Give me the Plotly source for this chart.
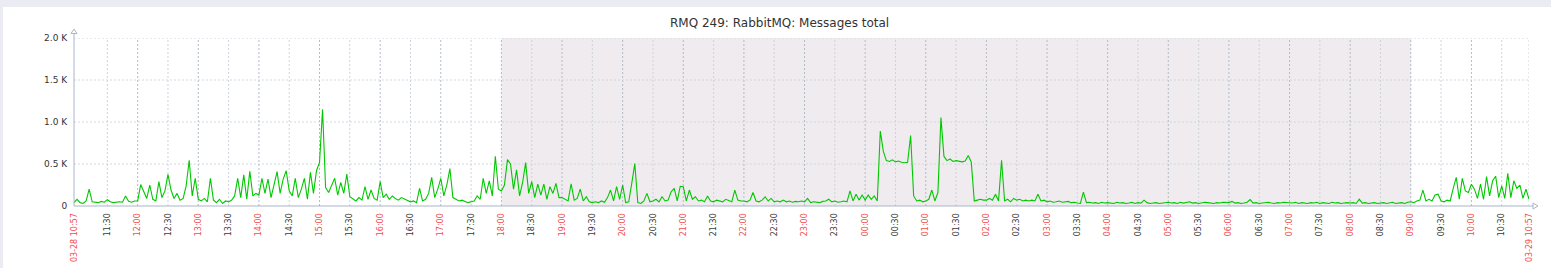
import plotly.graph_objects as go
import pandas as pd

TITLE = "RMQ 249: RabbitMQ: Messages total"
START = "2024-03-28 10:57"
END = "2024-03-29 10:57"
NIGHT_START = "2024-03-28 18:00"
NIGHT_END = "2024-03-29 09:00"
START_LABEL = "03-28 10:57"
END_LABEL = "03-29 10:57"

# values every 3 minutes, starting 10:57; each hourly list covers hh:00 .. hh:57
h10a = [40]
h11 = [80, 40, 30, 60, 200, 50, 45, 40, 55, 45, 75, 50, 40, 45, 50, 45, 120, 55, 45, 60]
h12 = [60, 255, 180, 90, 250, 80, 60, 290, 100, 180, 377, 190, 90, 150, 70, 90, 240, 544, 120, 330]
h13 = [80, 60, 90, 50, 330, 70, 40, 80, 30, 60, 50, 70, 120, 330, 100, 370, 80, 413, 120, 150]
h14 = [130, 330, 150, 320, 100, 250, 410, 150, 320, 420, 180, 120, 330, 100, 200, 330, 80, 400, 150, 420]
h15 = [520, 1150, 220, 160, 250, 330, 130, 280, 150, 380, 110, 80, 60, 100, 70, 230, 80, 190, 90, 70]
h16 = [290, 100, 140, 80, 120, 90, 70, 100, 80, 60, 50, 60, 40, 210, 60, 80, 150, 340, 100, 200]
h17 = [330, 120, 250, 445, 100, 80, 60, 70, 50, 40, 50, 60, 120, 80, 330, 150, 300, 120, 592, 200]
h18 = [180, 250, 552, 500, 200, 430, 120, 280, 516, 150, 290, 100, 260, 130, 260, 80, 230, 150, 270, 100]
h19 = [100, 80, 60, 265, 70, 90, 200, 60, 110, 50, 40, 50, 40, 60, 45, 100, 190, 60, 230, 80]
h20 = [250, 40, 50, 270, 504, 40, 30, 60, 150, 50, 60, 80, 50, 110, 60, 70, 170, 210, 60, 235]
h21 = [230, 60, 190, 80, 110, 60, 70, 50, 120, 60, 50, 70, 60, 50, 80, 60, 50, 190, 70, 60]
h22 = [60, 50, 70, 160, 60, 50, 70, 110, 60, 90, 50, 60, 50, 70, 50, 60, 45, 55, 50, 60]
h23 = [50, 90, 40, 50, 45, 40, 55, 60, 80, 50, 60, 45, 50, 60, 50, 180, 60, 140, 70, 130]
h00 = [70, 130, 80, 120, 60, 893, 650, 540, 530, 550, 525, 535, 520, 515, 520, 840, 120, 60, 70, 50]
h01 = [60, 80, 190, 60, 160, 1052, 590, 540, 560, 530, 540, 530, 525, 535, 600, 525, 60, 70, 80, 70]
h02 = [70, 90, 70, 140, 60, 545, 60, 80, 50, 90, 70, 80, 60, 70, 60, 70, 60, 140, 60, 70]
h03 = [50, 60, 45, 50, 60, 45, 50, 55, 40, 45, 35, 30, 165, 40, 45, 35, 40, 30, 45, 35]
h04 = [40, 35, 30, 45, 35, 40, 30, 35, 45, 30, 40, 35, 70, 40, 30, 35, 40, 30, 35, 40]
h05 = [45, 35, 40, 30, 45, 35, 40, 50, 35, 40, 30, 35, 45, 40, 35, 30, 40, 35, 45, 40]
h06 = [40, 55, 35, 40, 30, 35, 45, 76, 35, 40, 30, 35, 40, 45, 35, 30, 40, 35, 45, 40]
h07 = [40, 35, 45, 30, 40, 35, 30, 40, 35, 45, 30, 40, 35, 30, 45, 35, 40, 30, 35, 40]
h08 = [35, 40, 30, 80, 35, 40, 30, 35, 40, 30, 35, 40, 30, 35, 45, 30, 35, 40, 30, 45]
h09 = [50, 40, 60, 70, 190, 60, 80, 60, 130, 140, 60, 50, 70, 60, 210, 340, 80, 330, 180, 160]
h10b = [260, 200, 90, 260, 80, 350, 120, 300, 355, 100, 240, 90, 390, 100, 300, 210, 250, 90, 200, 80]

y_tickvals = [0, 500, 1000, 1500, 2000]
y_ticktext = ["0", "0.5 K", "1.0 K", "1.5 K", "2.0 K"]

values = (h10a + h11 + h12 + h13 + h14 + h15 + h16 + h17 + h18 + h19 + h20 + h21 + h22 + h23
          + h00 + h01 + h02 + h03 + h04 + h05 + h06 + h07 + h08 + h09 + h10b)
times = pd.date_range(START, periods=len(values), freq="3min")

# ---- layout geometry (pixels) ----
W, H = 1551, 268
ML, MR, MT, MB = 74, 22, 38, 62
PW = W - ML - MR
PH = H - MT - MB

def px(xp):
    return (xp - ML) / PW

def py(yp):
    return (H - MB - yp) / PH

RED = "#F24B4B"
GREY = "#3A3A3A"
AXIS = "#A8B6C8"

half_hours = pd.date_range("2024-03-28 11:30", "2024-03-29 10:30", freq="30min")
tickvals = [pd.Timestamp(START)] + list(half_hours) + [pd.Timestamp(END)]
ticktext = []
for i, t in enumerate(tickvals):
    if i == 0:
        ticktext.append(f'<span style="color:{RED}">{START_LABEL}</span>')
    elif i == len(tickvals) - 1:
        ticktext.append(f'<span style="color:{RED}">{END_LABEL}</span>')
    elif t.minute == 0:
        ticktext.append(f'<span style="color:{RED}">{t.strftime("%H:%M")}</span>')
    else:
        ticktext.append(f'<span style="color:{GREY}">{t.strftime("%H:%M")}</span>')

shapes = []
# page background bands
shapes.append(dict(type="rect", xref="paper", yref="paper", x0=px(0), x1=px(W), y0=py(7), y1=py(0),
                   fillcolor="#EBEBF4", line=dict(width=0), layer="below"))
shapes.append(dict(type="rect", xref="paper", yref="paper", x0=px(0), x1=px(3), y0=py(H), y1=py(0),
                   fillcolor="#EBEBF4", line=dict(width=0), layer="below"))
# night shading
shapes.append(dict(type="rect", xref="x", yref="y", x0=NIGHT_START, x1=NIGHT_END, y0=0, y1=2000,
                   fillcolor="#EFEBEF", line=dict(width=0), layer="below"))
# vertical grid
for t in list(half_hours) + [pd.Timestamp(END)]:
    major = t.minute == 0 and t != pd.Timestamp(END)
    shapes.append(dict(type="line", xref="x", yref="y", x0=t, x1=t, y0=0, y1=2000,
                       line=dict(color="#B2BCC9" if major else "#CDD3DC", width=1, dash="2px,2px"),
                       layer="below"))
# horizontal grid
for v in y_tickvals[1:]:
    shapes.append(dict(type="line", xref="x", yref="y", x0=START, x1=END, y0=v, y1=v,
                       line=dict(color="#D2D7DF", width=1, dash="2px,2px"), layer="below"))
# axis lines
shapes.append(dict(type="line", xref="paper", yref="paper", x0=0, x1=0, y0=0, y1=py(33),
                   line=dict(color=AXIS, width=1), layer="above"))
shapes.append(dict(type="line", xref="paper", yref="paper", x0=0, x1=px(1533), y0=0, y1=0,
                   line=dict(color=AXIS, width=1), layer="above"))
# arrows
shapes.append(dict(type="path", xref="paper", yref="paper",
                   path=f"M {px(71)},{py(33.5)} L {px(77)},{py(33.5)} L {px(74)},{py(29)} Z",
                   fillcolor="white", line=dict(color=AXIS, width=1), layer="above"))
shapes.append(dict(type="path", xref="paper", yref="paper",
                   path=f"M {px(1533)},{py(203)} L {px(1533)},{py(209)} L {px(1538)},{py(206)} Z",
                   fillcolor="white", line=dict(color=AXIS, width=1), layer="above"))

fig = go.Figure()
fig.add_trace(go.Scatter(x=times, y=values, mode="lines",
                         line=dict(color="#00C800", width=1.1), showlegend=False,
                         hoverinfo="x+y"))

fig.update_layout(
    width=W, height=H,
    margin=dict(l=ML, r=MR, t=MT, b=MB, pad=0, autoexpand=False),
    paper_bgcolor="white", plot_bgcolor="rgba(0,0,0,0)",
    font=dict(family="DejaVu Sans", size=9, color="#333"),
    shapes=shapes,
    showlegend=False,
    annotations=[dict(text=TITLE, xref="paper", yref="paper", x=px(779), y=py(23),
                      xanchor="center", yanchor="middle", showarrow=False,
                      font=dict(family="DejaVu Sans", size=12, color="#333"))],
)
fig.update_xaxes(type="date", range=[START, END], showgrid=False, zeroline=False, showline=False,
                 automargin=False,
                 tickmode="array", tickvals=tickvals, ticktext=ticktext, tickangle=-90,
                 ticks="outside", ticklen=3, tickcolor="rgba(0,0,0,0)",
                 tickfont=dict(family="DejaVu Sans", size=8, color=GREY))
fig.update_yaxes(range=[0, 2000], showgrid=False, zeroline=False, showline=False,
                 automargin=False,
                 tickmode="array", tickvals=y_tickvals, ticktext=y_ticktext,
                 ticks="outside", ticklen=4, tickcolor="rgba(0,0,0,0)",
                 tickfont=dict(family="DejaVu Sans", size=9, color="#333"))

fig.write_html("out.html")
